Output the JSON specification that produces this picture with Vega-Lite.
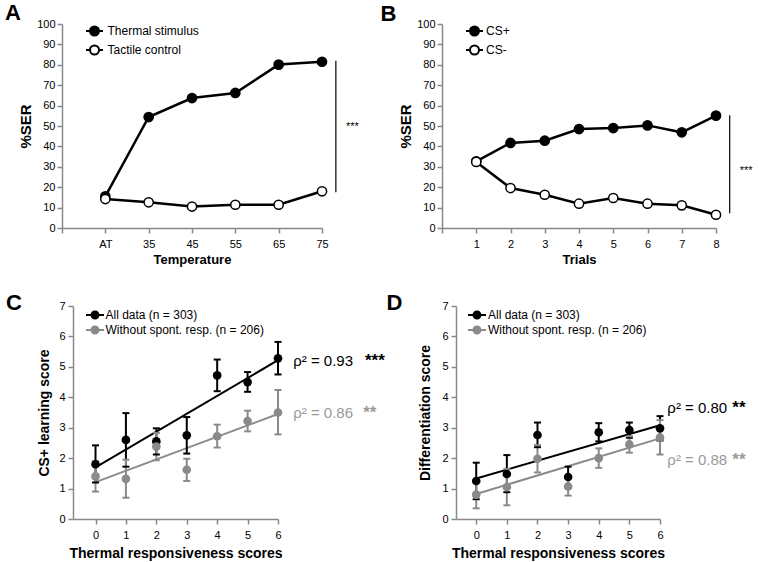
{
  "$schema": "https://vega.github.io/schema/vega-lite/v6.json",
  "padding": {"left": 5, "top": 1, "right": 2, "bottom": 2},
  "background": "white",
  "config": {
    "view": {"stroke": null},
    "font": "Liberation Sans",
    "axis": {"labelColor": "#000000", "titleColor": "#000000", "labelFont": "Liberation Sans", "titleFont": "Liberation Sans"},
    "text": {"font": "Liberation Sans", "color": "black"},
    "legend": {"labelFont": "Liberation Sans", "labelColor": "black", "padding": 0, "labelFontSize": 12}
  },
  "datasets": {
    "temperature": [
      {"step": 1, "temperature": "AT", "series": "Thermal stimulus", "ser": 15.5},
      {"step": 2, "temperature": "35", "series": "Thermal stimulus", "ser": 54.4},
      {"step": 3, "temperature": "45", "series": "Thermal stimulus", "ser": 63.7},
      {"step": 4, "temperature": "55", "series": "Thermal stimulus", "ser": 66.2},
      {"step": 5, "temperature": "65", "series": "Thermal stimulus", "ser": 80.1},
      {"step": 6, "temperature": "75", "series": "Thermal stimulus", "ser": 81.5},
      {"step": 1, "temperature": "AT", "series": "Tactile control", "ser": 14.2},
      {"step": 2, "temperature": "35", "series": "Tactile control", "ser": 12.6},
      {"step": 3, "temperature": "45", "series": "Tactile control", "ser": 10.5},
      {"step": 4, "temperature": "55", "series": "Tactile control", "ser": 11.4},
      {"step": 5, "temperature": "65", "series": "Tactile control", "ser": 11.4},
      {"step": 6, "temperature": "75", "series": "Tactile control", "ser": 18.0}
    ],
    "trials": [
      {"trial": 1, "series": "CS+", "ser": 32.7},
      {"trial": 2, "series": "CS+", "ser": 41.7},
      {"trial": 3, "series": "CS+", "ser": 42.8},
      {"trial": 4, "series": "CS+", "ser": 48.5},
      {"trial": 5, "series": "CS+", "ser": 49.0},
      {"trial": 6, "series": "CS+", "ser": 50.3},
      {"trial": 7, "series": "CS+", "ser": 46.9},
      {"trial": 8, "series": "CS+", "ser": 55.1},
      {"trial": 1, "series": "CS-", "ser": 32.4},
      {"trial": 2, "series": "CS-", "ser": 19.6},
      {"trial": 3, "series": "CS-", "ser": 16.3},
      {"trial": 4, "series": "CS-", "ser": 11.9},
      {"trial": 5, "series": "CS-", "ser": 14.7},
      {"trial": 6, "series": "CS-", "ser": 11.9},
      {"trial": 7, "series": "CS-", "ser": 11.1},
      {"trial": 8, "series": "CS-", "ser": 6.5}
    ],
    "learning": [
      {"score": 0, "series": "All data (n = 303)", "mean": 1.80, "lo": 1.20, "hi": 2.42},
      {"score": 1, "series": "All data (n = 303)", "mean": 2.60, "lo": 1.72, "hi": 3.48},
      {"score": 2, "series": "All data (n = 303)", "mean": 2.55, "lo": 2.12, "hi": 2.98},
      {"score": 3, "series": "All data (n = 303)", "mean": 2.75, "lo": 2.15, "hi": 3.35},
      {"score": 4, "series": "All data (n = 303)", "mean": 4.72, "lo": 4.20, "hi": 5.24},
      {"score": 5, "series": "All data (n = 303)", "mean": 4.50, "lo": 4.18, "hi": 4.83},
      {"score": 6, "series": "All data (n = 303)", "mean": 5.28, "lo": 4.75, "hi": 5.82},
      {"score": 0, "series": "Without spont. resp. (n = 206)", "mean": 1.40, "lo": 0.90, "hi": 1.90},
      {"score": 1, "series": "Without spont. resp. (n = 206)", "mean": 1.32, "lo": 0.70, "hi": 1.95},
      {"score": 2, "series": "Without spont. resp. (n = 206)", "mean": 2.38, "lo": 1.93, "hi": 2.83},
      {"score": 3, "series": "Without spont. resp. (n = 206)", "mean": 1.62, "lo": 1.25, "hi": 1.98},
      {"score": 4, "series": "Without spont. resp. (n = 206)", "mean": 2.72, "lo": 2.35, "hi": 3.10},
      {"score": 5, "series": "Without spont. resp. (n = 206)", "mean": 3.22, "lo": 2.88, "hi": 3.56},
      {"score": 6, "series": "Without spont. resp. (n = 206)", "mean": 3.50, "lo": 2.78, "hi": 4.24}
    ],
    "learningFit": [
      {"score": 0, "series": "All data (n = 303)", "fit": 1.70},
      {"score": 6, "series": "All data (n = 303)", "fit": 5.22},
      {"score": 0, "series": "Without spont. resp. (n = 206)", "fit": 1.21},
      {"score": 6, "series": "Without spont. resp. (n = 206)", "fit": 3.45}
    ],
    "differentiation": [
      {"score": 0, "series": "All data (n = 303)", "mean": 1.25, "lo": 0.65, "hi": 1.85},
      {"score": 1, "series": "All data (n = 303)", "mean": 1.48, "lo": 0.88, "hi": 2.10},
      {"score": 2, "series": "All data (n = 303)", "mean": 2.76, "lo": 2.36, "hi": 3.17},
      {"score": 3, "series": "All data (n = 303)", "mean": 1.38, "lo": 1.03, "hi": 1.72},
      {"score": 4, "series": "All data (n = 303)", "mean": 2.85, "lo": 2.55, "hi": 3.15},
      {"score": 5, "series": "All data (n = 303)", "mean": 2.92, "lo": 2.67, "hi": 3.17},
      {"score": 6, "series": "All data (n = 303)", "mean": 2.98, "lo": 2.58, "hi": 3.38},
      {"score": 0, "series": "Without spont. resp. (n = 206)", "mean": 0.80, "lo": 0.35, "hi": 1.25},
      {"score": 1, "series": "Without spont. resp. (n = 206)", "mean": 1.05, "lo": 0.45, "hi": 1.65},
      {"score": 2, "series": "Without spont. resp. (n = 206)", "mean": 1.98, "lo": 1.53, "hi": 2.43},
      {"score": 3, "series": "Without spont. resp. (n = 206)", "mean": 1.07, "lo": 0.77, "hi": 1.37},
      {"score": 4, "series": "Without spont. resp. (n = 206)", "mean": 2.00, "lo": 1.68, "hi": 2.32},
      {"score": 5, "series": "Without spont. resp. (n = 206)", "mean": 2.45, "lo": 2.18, "hi": 2.72},
      {"score": 6, "series": "Without spont. resp. (n = 206)", "mean": 2.68, "lo": 2.12, "hi": 3.25}
    ],
    "differentiationFit": [
      {"score": 0, "series": "All data (n = 303)", "fit": 1.33},
      {"score": 6, "series": "All data (n = 303)", "fit": 3.08},
      {"score": 0, "series": "Without spont. resp. (n = 206)", "fit": 0.82},
      {"score": 6, "series": "Without spont. resp. (n = 206)", "fit": 2.65}
    ]
  },
  "resolve": {"scale": {"fill": "independent", "stroke": "independent", "color": "independent"}, "legend": {"fill": "independent", "stroke": "independent", "color": "independent"}},
  "spacing": 25,
  "vconcat": [
    {
      "spacing": 120,
      "bounds": "flush",
      "resolve": {"scale": {"fill": "independent", "stroke": "independent", "color": "independent"}, "legend": {"fill": "independent", "stroke": "independent", "color": "independent"}},
      "hconcat": [
        {
          "width": 260,
          "height": 204,
          "data": {"name": "temperature"},
          "layer": [
            {
              "mark": {"type": "line", "color": "black", "strokeWidth": 2.5},
              "encoding": {
                "x": {"field": "step", "type": "quantitative", "scale": {"domain": [0, 6], "nice": false, "zero": false},
                  "axis": {"values": [0, 1, 2, 3, 4, 5, 6], "labelExpr": "['', 'AT', '35', '45', '55', '65', '75'][datum.value]", "title": "Temperature", "titleFontSize": 13, "domainWidth": 1.5, "tickWidth": 1.5, "tickSize": 5, "labelFontSize": 11, "labelPadding": 5, "labelOverlap": false, "labelFlush": false, "grid": false, "titleFontWeight": "bold", "titlePadding": 4}},
                "y": {"field": "ser", "type": "quantitative", "scale": {"domain": [0, 100], "nice": false},
                  "axis": {"values": [0, 10, 20, 30, 40, 50, 60, 70, 80, 90, 100], "title": "%SER", "titleFontSize": 15, "domainWidth": 1.5, "tickWidth": 1.5, "tickSize": 5, "labelFontSize": 11, "labelPadding": 2, "labelOverlap": false, "labelFlush": false, "grid": false, "titleFontWeight": "bold", "titlePadding": 3}},
                "detail": {"field": "series"}
              }
            },
            {
              "data": {"values": [{}]},
              "mark": {"type": "rule", "color": "black", "strokeWidth": 1.2},
              "encoding": {
                "x": {"datum": 6.32, "axis": {"values": [0, 1, 2, 3, 4, 5, 6], "labelExpr": "['', 'AT', '35', '45', '55', '65', '75'][datum.value]", "title": "Temperature", "titleFontSize": 13, "domainWidth": 1.5, "tickWidth": 1.5, "tickSize": 5, "labelFontSize": 11, "labelPadding": 5, "labelOverlap": false, "labelFlush": false, "grid": false, "titleFontWeight": "bold", "titlePadding": 4}},
                "y": {"datum": 17.5, "axis": {"values": [0, 10, 20, 30, 40, 50, 60, 70, 80, 90, 100], "title": "%SER", "titleFontSize": 15, "domainWidth": 1.5, "tickWidth": 1.5, "tickSize": 5, "labelFontSize": 11, "labelPadding": 2, "labelOverlap": false, "labelFlush": false, "grid": false, "titleFontWeight": "bold", "titlePadding": 3}},
                "y2": {"datum": 82}
              }
            },
            {
              "data": {"values": [{}]},
              "mark": {"type": "text", "text": "***", "fontSize": 11, "align": "center", "baseline": "alphabetic"},
              "encoding": {
                "x": {"datum": 6.7, "axis": {"values": [0, 1, 2, 3, 4, 5, 6], "labelExpr": "['', 'AT', '35', '45', '55', '65', '75'][datum.value]", "title": "Temperature", "titleFontSize": 13, "domainWidth": 1.5, "tickWidth": 1.5, "tickSize": 5, "labelFontSize": 11, "labelPadding": 5, "labelOverlap": false, "labelFlush": false, "grid": false, "titleFontWeight": "bold", "titlePadding": 4}},
                "y": {"datum": 47.8, "axis": {"values": [0, 10, 20, 30, 40, 50, 60, 70, 80, 90, 100], "title": "%SER", "titleFontSize": 15, "domainWidth": 1.5, "tickWidth": 1.5, "tickSize": 5, "labelFontSize": 11, "labelPadding": 2, "labelOverlap": false, "labelFlush": false, "grid": false, "titleFontWeight": "bold", "titlePadding": 3}}
              }
            },
            {
              "data": {"values": [{}]},
              "mark": {"type": "text", "text": "A", "fontSize": 22, "fontWeight": "bold", "align": "left", "baseline": "top"},
              "encoding": {
                "x": {"datum": -1.315, "axis": {"values": [0, 1, 2, 3, 4, 5, 6], "labelExpr": "['', 'AT', '35', '45', '55', '65', '75'][datum.value]", "title": "Temperature", "titleFontSize": 13, "domainWidth": 1.5, "tickWidth": 1.5, "tickSize": 5, "labelFontSize": 11, "labelPadding": 5, "labelOverlap": false, "labelFlush": false, "grid": false, "titleFontWeight": "bold", "titlePadding": 4}},
                "y": {"datum": 110.4, "axis": {"values": [0, 10, 20, 30, 40, 50, 60, 70, 80, 90, 100], "title": "%SER", "titleFontSize": 15, "domainWidth": 1.5, "tickWidth": 1.5, "tickSize": 5, "labelFontSize": 11, "labelPadding": 2, "labelOverlap": false, "labelFlush": false, "grid": false, "titleFontWeight": "bold", "titlePadding": 3}}
              }
            },
            {
              "mark": {"type": "point", "filled": true, "size": 85, "stroke": "black", "strokeWidth": 1.5, "opacity": 1},
              "encoding": {
                "x": {"field": "step", "type": "quantitative", "axis": {"values": [0, 1, 2, 3, 4, 5, 6], "labelExpr": "['', 'AT', '35', '45', '55', '65', '75'][datum.value]", "title": "Temperature", "titleFontSize": 13, "domainWidth": 1.5, "tickWidth": 1.5, "tickSize": 5, "labelFontSize": 11, "labelPadding": 5, "labelOverlap": false, "labelFlush": false, "grid": false, "titleFontWeight": "bold", "titlePadding": 4}},
                "y": {"field": "ser", "type": "quantitative", "axis": {"values": [0, 10, 20, 30, 40, 50, 60, 70, 80, 90, 100], "title": "%SER", "titleFontSize": 15, "domainWidth": 1.5, "tickWidth": 1.5, "tickSize": 5, "labelFontSize": 11, "labelPadding": 2, "labelOverlap": false, "labelFlush": false, "grid": false, "titleFontWeight": "bold", "titlePadding": 3}},
                "fill": {"field": "series", "type": "nominal", "scale": {"domain": ["Thermal stimulus", "Tactile control"], "range": ["black", "white"]},
                  "legend": {"orient": "none", "legendX": 23, "legendY": -2.5, "title": null, "symbolType": "M-1,0L-0.53,0M0.53,0L1,0M0.53,0A0.53,0.53,0,1,1,-0.53,0A0.53,0.53,0,1,1,0.53,0Z", "symbolSize": 289, "symbolStrokeWidth": 2, "symbolStrokeColor": "black", "labelFontSize": 12, "labelOffset": 3.5, "rowPadding": -3.3}}
              }
            }
          ]
        },
        {
          "width": 274,
          "height": 204,
          "data": {"name": "trials"},
          "layer": [
            {
              "mark": {"type": "line", "color": "black", "strokeWidth": 2.5},
              "encoding": {
                "x": {"field": "trial", "type": "quantitative", "scale": {"domain": [0, 8], "nice": false, "zero": false},
                  "axis": {"values": [0, 1, 2, 3, 4, 5, 6, 7, 8], "labelExpr": "datum.value == 0 ? '' : datum.label", "title": "Trials", "titleFontSize": 13, "domainWidth": 1.5, "tickWidth": 1.5, "tickSize": 5, "labelFontSize": 11, "labelPadding": 5, "labelOverlap": false, "labelFlush": false, "grid": false, "titleFontWeight": "bold", "titlePadding": 4}},
                "y": {"field": "ser", "type": "quantitative", "scale": {"domain": [0, 100], "nice": false},
                  "axis": {"values": [0, 10, 20, 30, 40, 50, 60, 70, 80, 90, 100], "title": "%SER", "titleFontSize": 15, "domainWidth": 1.5, "tickWidth": 1.5, "tickSize": 5, "labelFontSize": 11, "labelPadding": 2, "labelOverlap": false, "labelFlush": false, "grid": false, "titleFontWeight": "bold", "titlePadding": 3}},
                "detail": {"field": "series"}
              }
            },
            {
              "data": {"values": [{}]},
              "mark": {"type": "rule", "color": "black", "strokeWidth": 1.2},
              "encoding": {
                "x": {"datum": 8.4, "axis": {"values": [0, 1, 2, 3, 4, 5, 6, 7, 8], "labelExpr": "datum.value == 0 ? '' : datum.label", "title": "Trials", "titleFontSize": 13, "domainWidth": 1.5, "tickWidth": 1.5, "tickSize": 5, "labelFontSize": 11, "labelPadding": 5, "labelOverlap": false, "labelFlush": false, "grid": false, "titleFontWeight": "bold", "titlePadding": 4}},
                "y": {"datum": 7.2, "axis": {"values": [0, 10, 20, 30, 40, 50, 60, 70, 80, 90, 100], "title": "%SER", "titleFontSize": 15, "domainWidth": 1.5, "tickWidth": 1.5, "tickSize": 5, "labelFontSize": 11, "labelPadding": 2, "labelOverlap": false, "labelFlush": false, "grid": false, "titleFontWeight": "bold", "titlePadding": 3}},
                "y2": {"datum": 55.3}
              }
            },
            {
              "data": {"values": [{}]},
              "mark": {"type": "text", "text": "***", "fontSize": 11, "align": "center", "baseline": "alphabetic"},
              "encoding": {
                "x": {"datum": 8.88, "axis": {"values": [0, 1, 2, 3, 4, 5, 6, 7, 8], "labelExpr": "datum.value == 0 ? '' : datum.label", "title": "Trials", "titleFontSize": 13, "domainWidth": 1.5, "tickWidth": 1.5, "tickSize": 5, "labelFontSize": 11, "labelPadding": 5, "labelOverlap": false, "labelFlush": false, "grid": false, "titleFontWeight": "bold", "titlePadding": 4}},
                "y": {"datum": 26.5, "axis": {"values": [0, 10, 20, 30, 40, 50, 60, 70, 80, 90, 100], "title": "%SER", "titleFontSize": 15, "domainWidth": 1.5, "tickWidth": 1.5, "tickSize": 5, "labelFontSize": 11, "labelPadding": 2, "labelOverlap": false, "labelFlush": false, "grid": false, "titleFontWeight": "bold", "titlePadding": 3}}
              }
            },
            {
              "data": {"values": [{}]},
              "mark": {"type": "text", "text": "B", "fontSize": 22, "fontWeight": "bold", "align": "left", "baseline": "top"},
              "encoding": {
                "x": {"datum": -1.796, "axis": {"values": [0, 1, 2, 3, 4, 5, 6, 7, 8], "labelExpr": "datum.value == 0 ? '' : datum.label", "title": "Trials", "titleFontSize": 13, "domainWidth": 1.5, "tickWidth": 1.5, "tickSize": 5, "labelFontSize": 11, "labelPadding": 5, "labelOverlap": false, "labelFlush": false, "grid": false, "titleFontWeight": "bold", "titlePadding": 4}},
                "y": {"datum": 109.9, "axis": {"values": [0, 10, 20, 30, 40, 50, 60, 70, 80, 90, 100], "title": "%SER", "titleFontSize": 15, "domainWidth": 1.5, "tickWidth": 1.5, "tickSize": 5, "labelFontSize": 11, "labelPadding": 2, "labelOverlap": false, "labelFlush": false, "grid": false, "titleFontWeight": "bold", "titlePadding": 3}}
              }
            },
            {
              "mark": {"type": "point", "filled": true, "size": 85, "stroke": "black", "strokeWidth": 1.5, "opacity": 1},
              "encoding": {
                "x": {"field": "trial", "type": "quantitative", "axis": {"values": [0, 1, 2, 3, 4, 5, 6, 7, 8], "labelExpr": "datum.value == 0 ? '' : datum.label", "title": "Trials", "titleFontSize": 13, "domainWidth": 1.5, "tickWidth": 1.5, "tickSize": 5, "labelFontSize": 11, "labelPadding": 5, "labelOverlap": false, "labelFlush": false, "grid": false, "titleFontWeight": "bold", "titlePadding": 4}},
                "y": {"field": "ser", "type": "quantitative", "axis": {"values": [0, 10, 20, 30, 40, 50, 60, 70, 80, 90, 100], "title": "%SER", "titleFontSize": 15, "domainWidth": 1.5, "tickWidth": 1.5, "tickSize": 5, "labelFontSize": 11, "labelPadding": 2, "labelOverlap": false, "labelFlush": false, "grid": false, "titleFontWeight": "bold", "titlePadding": 3}},
                "fill": {"field": "series", "type": "nominal", "scale": {"domain": ["CS+", "CS-"], "range": ["black", "white"]},
                  "legend": {"orient": "none", "legendX": 23, "legendY": -2.5, "title": null, "symbolType": "M-1,0L-0.53,0M0.53,0L1,0M0.53,0A0.53,0.53,0,1,1,-0.53,0A0.53,0.53,0,1,1,0.53,0Z", "symbolSize": 289, "symbolStrokeWidth": 2, "symbolStrokeColor": "black", "labelFontSize": 12, "labelOffset": 2, "rowPadding": -3.3}}
              }
            }
          ]
        }
      ]
    },
    {
      "spacing": 0,
      "bounds": "flush",
      "resolve": {"scale": {"fill": "independent", "stroke": "independent", "color": "independent"}, "legend": {"fill": "independent", "stroke": "independent", "color": "independent"}},
      "hconcat": [
        {"width": 11, "height": 213, "data": {"values": []}, "mark": "point"},
        {
          "spacing": 178,
          "bounds": "flush",
          "resolve": {"scale": {"fill": "independent", "stroke": "independent", "color": "independent"}, "legend": {"fill": "independent", "stroke": "independent", "color": "independent"}},
          "hconcat": [
            {
              "width": 205,
              "height": 213,
              "layer": [
                {
                  "data": {"name": "learningFit"},
                  "mark": {"type": "line", "strokeWidth": 2},
                  "encoding": {
                    "x": {"field": "score", "type": "quantitative", "scale": {"domain": [-0.74, 6], "nice": false, "zero": false},
                      "axis": {"values": [0, 1, 2, 3, 4, 5, 6], "title": "Thermal responsiveness scores", "titleFontSize": 14, "domainWidth": 1.5, "tickWidth": 1.5, "tickSize": 5, "labelFontSize": 11, "labelPadding": 5, "labelOverlap": false, "labelFlush": false, "grid": false, "titleFontWeight": "bold", "titlePadding": 6}},
                    "y": {"field": "fit", "type": "quantitative", "scale": {"domain": [0, 7], "nice": false},
                      "axis": {"values": [0, 1, 2, 3, 4, 5, 6, 7], "title": "CS+ learning score", "titleFontSize": 14, "domainWidth": 1.5, "tickWidth": 1.5, "tickSize": 5, "labelFontSize": 11, "labelPadding": 3, "labelOverlap": false, "labelFlush": false, "grid": false, "titleFontWeight": "bold", "titlePadding": 7}},
                    "color": {"field": "series", "type": "nominal", "scale": {"range": ["black", "#8a8a8a"]}, "legend": null}
                  }
                },
                {
                  "data": {"name": "learning"},
                  "mark": {"type": "rule", "strokeWidth": 2},
                  "encoding": {
                    "x": {"field": "score", "type": "quantitative", "axis": {"values": [0, 1, 2, 3, 4, 5, 6], "title": "Thermal responsiveness scores", "titleFontSize": 14, "domainWidth": 1.5, "tickWidth": 1.5, "tickSize": 5, "labelFontSize": 11, "labelPadding": 5, "labelOverlap": false, "labelFlush": false, "grid": false, "titleFontWeight": "bold", "titlePadding": 6}},
                    "y": {"field": "lo", "type": "quantitative", "axis": {"values": [0, 1, 2, 3, 4, 5, 6, 7], "title": "CS+ learning score", "titleFontSize": 14, "domainWidth": 1.5, "tickWidth": 1.5, "tickSize": 5, "labelFontSize": 11, "labelPadding": 3, "labelOverlap": false, "labelFlush": false, "grid": false, "titleFontWeight": "bold", "titlePadding": 7}},
                    "y2": {"field": "hi"},
                    "color": {"field": "series", "type": "nominal", "legend": null}
                  }
                },
                {
                  "data": {"name": "learning"},
                  "mark": {"type": "tick", "orient": "horizontal", "size": 7, "thickness": 2, "opacity": 1},
                  "encoding": {
                    "x": {"field": "score", "type": "quantitative", "axis": {"values": [0, 1, 2, 3, 4, 5, 6], "title": "Thermal responsiveness scores", "titleFontSize": 14, "domainWidth": 1.5, "tickWidth": 1.5, "tickSize": 5, "labelFontSize": 11, "labelPadding": 5, "labelOverlap": false, "labelFlush": false, "grid": false, "titleFontWeight": "bold", "titlePadding": 6}},
                    "y": {"field": "lo", "type": "quantitative", "axis": {"values": [0, 1, 2, 3, 4, 5, 6, 7], "title": "CS+ learning score", "titleFontSize": 14, "domainWidth": 1.5, "tickWidth": 1.5, "tickSize": 5, "labelFontSize": 11, "labelPadding": 3, "labelOverlap": false, "labelFlush": false, "grid": false, "titleFontWeight": "bold", "titlePadding": 7}},
                    "color": {"field": "series", "type": "nominal", "legend": null}
                  }
                },
                {
                  "data": {"name": "learning"},
                  "mark": {"type": "tick", "orient": "horizontal", "size": 7, "thickness": 2, "opacity": 1},
                  "encoding": {
                    "x": {"field": "score", "type": "quantitative", "axis": {"values": [0, 1, 2, 3, 4, 5, 6], "title": "Thermal responsiveness scores", "titleFontSize": 14, "domainWidth": 1.5, "tickWidth": 1.5, "tickSize": 5, "labelFontSize": 11, "labelPadding": 5, "labelOverlap": false, "labelFlush": false, "grid": false, "titleFontWeight": "bold", "titlePadding": 6}},
                    "y": {"field": "hi", "type": "quantitative", "axis": {"values": [0, 1, 2, 3, 4, 5, 6, 7], "title": "CS+ learning score", "titleFontSize": 14, "domainWidth": 1.5, "tickWidth": 1.5, "tickSize": 5, "labelFontSize": 11, "labelPadding": 3, "labelOverlap": false, "labelFlush": false, "grid": false, "titleFontWeight": "bold", "titlePadding": 7}},
                    "color": {"field": "series", "type": "nominal", "legend": null}
                  }
                },
                {
                  "data": {"values": [{}]},
                  "layer": [
                    {"mark": {"type": "text", "text": "ρ² = 0.93", "fontSize": 15, "align": "left", "baseline": "middle", "color": "black"},
                     "encoding": {
                       "x": {"datum": 6.5, "axis": {"values": [0, 1, 2, 3, 4, 5, 6], "title": "Thermal responsiveness scores", "titleFontSize": 14, "domainWidth": 1.5, "tickWidth": 1.5, "tickSize": 5, "labelFontSize": 11, "labelPadding": 5, "labelOverlap": false, "labelFlush": false, "grid": false, "titleFontWeight": "bold", "titlePadding": 6}},
                       "y": {"datum": 5.19, "axis": {"values": [0, 1, 2, 3, 4, 5, 6, 7], "title": "CS+ learning score", "titleFontSize": 14, "domainWidth": 1.5, "tickWidth": 1.5, "tickSize": 5, "labelFontSize": 11, "labelPadding": 3, "labelOverlap": false, "labelFlush": false, "grid": false, "titleFontWeight": "bold", "titlePadding": 7}}}},
                    {"mark": {"type": "text", "text": "***", "fontSize": 17, "fontWeight": "bold", "align": "left", "baseline": "middle", "color": "black"},
                     "encoding": {
                       "x": {"datum": 8.86, "axis": {"values": [0, 1, 2, 3, 4, 5, 6], "title": "Thermal responsiveness scores", "titleFontSize": 14, "domainWidth": 1.5, "tickWidth": 1.5, "tickSize": 5, "labelFontSize": 11, "labelPadding": 5, "labelOverlap": false, "labelFlush": false, "grid": false, "titleFontWeight": "bold", "titlePadding": 6}},
                       "y": {"datum": 5.19, "axis": {"values": [0, 1, 2, 3, 4, 5, 6, 7], "title": "CS+ learning score", "titleFontSize": 14, "domainWidth": 1.5, "tickWidth": 1.5, "tickSize": 5, "labelFontSize": 11, "labelPadding": 3, "labelOverlap": false, "labelFlush": false, "grid": false, "titleFontWeight": "bold", "titlePadding": 7}}}},
                    {"mark": {"type": "text", "text": "ρ² = 0.86", "fontSize": 15, "align": "left", "baseline": "middle", "color": "#9a9a9a"},
                     "encoding": {
                       "x": {"datum": 6.5, "axis": {"values": [0, 1, 2, 3, 4, 5, 6], "title": "Thermal responsiveness scores", "titleFontSize": 14, "domainWidth": 1.5, "tickWidth": 1.5, "tickSize": 5, "labelFontSize": 11, "labelPadding": 5, "labelOverlap": false, "labelFlush": false, "grid": false, "titleFontWeight": "bold", "titlePadding": 6}},
                       "y": {"datum": 3.49, "axis": {"values": [0, 1, 2, 3, 4, 5, 6, 7], "title": "CS+ learning score", "titleFontSize": 14, "domainWidth": 1.5, "tickWidth": 1.5, "tickSize": 5, "labelFontSize": 11, "labelPadding": 3, "labelOverlap": false, "labelFlush": false, "grid": false, "titleFontWeight": "bold", "titlePadding": 7}}}},
                    {"mark": {"type": "text", "text": "**", "fontSize": 17, "fontWeight": "bold", "align": "left", "baseline": "middle", "color": "#9a9a9a"},
                     "encoding": {
                       "x": {"datum": 8.8, "axis": {"values": [0, 1, 2, 3, 4, 5, 6], "title": "Thermal responsiveness scores", "titleFontSize": 14, "domainWidth": 1.5, "tickWidth": 1.5, "tickSize": 5, "labelFontSize": 11, "labelPadding": 5, "labelOverlap": false, "labelFlush": false, "grid": false, "titleFontWeight": "bold", "titlePadding": 6}},
                       "y": {"datum": 3.49, "axis": {"values": [0, 1, 2, 3, 4, 5, 6, 7], "title": "CS+ learning score", "titleFontSize": 14, "domainWidth": 1.5, "tickWidth": 1.5, "tickSize": 5, "labelFontSize": 11, "labelPadding": 3, "labelOverlap": false, "labelFlush": false, "grid": false, "titleFontWeight": "bold", "titlePadding": 7}}}},
                    {"mark": {"type": "text", "text": "C", "fontSize": 22, "fontWeight": "bold", "align": "left", "baseline": "top"},
                     "encoding": {
                       "x": {"datum": -2.943, "axis": {"values": [0, 1, 2, 3, 4, 5, 6], "title": "Thermal responsiveness scores", "titleFontSize": 14, "domainWidth": 1.5, "tickWidth": 1.5, "tickSize": 5, "labelFontSize": 11, "labelPadding": 5, "labelOverlap": false, "labelFlush": false, "grid": false, "titleFontWeight": "bold", "titlePadding": 6}},
                       "y": {"datum": 7.435, "axis": {"values": [0, 1, 2, 3, 4, 5, 6, 7], "title": "CS+ learning score", "titleFontSize": 14, "domainWidth": 1.5, "tickWidth": 1.5, "tickSize": 5, "labelFontSize": 11, "labelPadding": 3, "labelOverlap": false, "labelFlush": false, "grid": false, "titleFontWeight": "bold", "titlePadding": 7}}}}
                  ]
                },
                {
                  "data": {"name": "learning"},
                  "mark": {"type": "point", "filled": true, "size": 75, "opacity": 1, "strokeWidth": 0},
                  "encoding": {
                    "x": {"field": "score", "type": "quantitative", "axis": {"values": [0, 1, 2, 3, 4, 5, 6], "title": "Thermal responsiveness scores", "titleFontSize": 14, "domainWidth": 1.5, "tickWidth": 1.5, "tickSize": 5, "labelFontSize": 11, "labelPadding": 5, "labelOverlap": false, "labelFlush": false, "grid": false, "titleFontWeight": "bold", "titlePadding": 6}},
                    "y": {"field": "mean", "type": "quantitative", "axis": {"values": [0, 1, 2, 3, 4, 5, 6, 7], "title": "CS+ learning score", "titleFontSize": 14, "domainWidth": 1.5, "tickWidth": 1.5, "tickSize": 5, "labelFontSize": 11, "labelPadding": 3, "labelOverlap": false, "labelFlush": false, "grid": false, "titleFontWeight": "bold", "titlePadding": 7}},
                    "fill": {"field": "series", "type": "nominal", "scale": {"domain": ["All data (n = 303)", "Without spont. resp. (n = 206)"], "range": ["black", "#8a8a8a"]},
                      "legend": {"orient": "none", "legendX": 13, "legendY": 0, "title": null, "symbolType": "M-1,-0.11L-0.45,-0.11L-0.45,0.11L-1,0.11ZM0.45,-0.11L1,-0.11L1,0.11L0.45,0.11ZM0.5,0A0.5,0.5,0,1,1,-0.5,0A0.5,0.5,0,1,1,0.5,0Z", "symbolSize": 324, "symbolStrokeWidth": 0, "labelFontSize": 12, "labelOffset": 1.5, "rowPadding": -4}}
                  }
                }
              ]
            },
            {
              "width": 204,
              "height": 213,
              "layer": [
                {
                  "data": {"name": "differentiationFit"},
                  "mark": {"type": "line", "strokeWidth": 2},
                  "encoding": {
                    "x": {"field": "score", "type": "quantitative", "scale": {"domain": [-0.66, 6], "nice": false, "zero": false},
                      "axis": {"values": [0, 1, 2, 3, 4, 5, 6], "title": "Thermal responsiveness scores", "titleFontSize": 14, "domainWidth": 1.5, "tickWidth": 1.5, "tickSize": 5, "labelFontSize": 11, "labelPadding": 5, "labelOverlap": false, "labelFlush": false, "grid": false, "titleFontWeight": "bold", "titlePadding": 6}},
                    "y": {"field": "fit", "type": "quantitative", "scale": {"domain": [0, 7], "nice": false},
                      "axis": {"values": [0, 1, 2, 3, 4, 5, 6, 7], "title": "Differentiation score", "titleFontSize": 14, "domainWidth": 1.5, "tickWidth": 1.5, "tickSize": 5, "labelFontSize": 11, "labelPadding": 3, "labelOverlap": false, "labelFlush": false, "grid": false, "titleFontWeight": "bold", "titlePadding": 9}},
                    "color": {"field": "series", "type": "nominal", "scale": {"range": ["black", "#8a8a8a"]}, "legend": null}
                  }
                },
                {
                  "data": {"name": "differentiation"},
                  "mark": {"type": "rule", "strokeWidth": 2},
                  "encoding": {
                    "x": {"field": "score", "type": "quantitative", "axis": {"values": [0, 1, 2, 3, 4, 5, 6], "title": "Thermal responsiveness scores", "titleFontSize": 14, "domainWidth": 1.5, "tickWidth": 1.5, "tickSize": 5, "labelFontSize": 11, "labelPadding": 5, "labelOverlap": false, "labelFlush": false, "grid": false, "titleFontWeight": "bold", "titlePadding": 6}},
                    "y": {"field": "lo", "type": "quantitative", "axis": {"values": [0, 1, 2, 3, 4, 5, 6, 7], "title": "Differentiation score", "titleFontSize": 14, "domainWidth": 1.5, "tickWidth": 1.5, "tickSize": 5, "labelFontSize": 11, "labelPadding": 3, "labelOverlap": false, "labelFlush": false, "grid": false, "titleFontWeight": "bold", "titlePadding": 9}},
                    "y2": {"field": "hi"},
                    "color": {"field": "series", "type": "nominal", "legend": null}
                  }
                },
                {
                  "data": {"name": "differentiation"},
                  "mark": {"type": "tick", "orient": "horizontal", "size": 7, "thickness": 2, "opacity": 1},
                  "encoding": {
                    "x": {"field": "score", "type": "quantitative", "axis": {"values": [0, 1, 2, 3, 4, 5, 6], "title": "Thermal responsiveness scores", "titleFontSize": 14, "domainWidth": 1.5, "tickWidth": 1.5, "tickSize": 5, "labelFontSize": 11, "labelPadding": 5, "labelOverlap": false, "labelFlush": false, "grid": false, "titleFontWeight": "bold", "titlePadding": 6}},
                    "y": {"field": "lo", "type": "quantitative", "axis": {"values": [0, 1, 2, 3, 4, 5, 6, 7], "title": "Differentiation score", "titleFontSize": 14, "domainWidth": 1.5, "tickWidth": 1.5, "tickSize": 5, "labelFontSize": 11, "labelPadding": 3, "labelOverlap": false, "labelFlush": false, "grid": false, "titleFontWeight": "bold", "titlePadding": 9}},
                    "color": {"field": "series", "type": "nominal", "legend": null}
                  }
                },
                {
                  "data": {"name": "differentiation"},
                  "mark": {"type": "tick", "orient": "horizontal", "size": 7, "thickness": 2, "opacity": 1},
                  "encoding": {
                    "x": {"field": "score", "type": "quantitative", "axis": {"values": [0, 1, 2, 3, 4, 5, 6], "title": "Thermal responsiveness scores", "titleFontSize": 14, "domainWidth": 1.5, "tickWidth": 1.5, "tickSize": 5, "labelFontSize": 11, "labelPadding": 5, "labelOverlap": false, "labelFlush": false, "grid": false, "titleFontWeight": "bold", "titlePadding": 6}},
                    "y": {"field": "hi", "type": "quantitative", "axis": {"values": [0, 1, 2, 3, 4, 5, 6, 7], "title": "Differentiation score", "titleFontSize": 14, "domainWidth": 1.5, "tickWidth": 1.5, "tickSize": 5, "labelFontSize": 11, "labelPadding": 3, "labelOverlap": false, "labelFlush": false, "grid": false, "titleFontWeight": "bold", "titlePadding": 9}},
                    "color": {"field": "series", "type": "nominal", "legend": null}
                  }
                },
                {
                  "data": {"values": [{}]},
                  "layer": [
                    {"mark": {"type": "text", "text": "ρ² = 0.80", "fontSize": 15, "align": "left", "baseline": "middle", "color": "black"},
                     "encoding": {
                       "x": {"datum": 6.24, "axis": {"values": [0, 1, 2, 3, 4, 5, 6], "title": "Thermal responsiveness scores", "titleFontSize": 14, "domainWidth": 1.5, "tickWidth": 1.5, "tickSize": 5, "labelFontSize": 11, "labelPadding": 5, "labelOverlap": false, "labelFlush": false, "grid": false, "titleFontWeight": "bold", "titlePadding": 6}},
                       "y": {"datum": 3.66, "axis": {"values": [0, 1, 2, 3, 4, 5, 6, 7], "title": "Differentiation score", "titleFontSize": 14, "domainWidth": 1.5, "tickWidth": 1.5, "tickSize": 5, "labelFontSize": 11, "labelPadding": 3, "labelOverlap": false, "labelFlush": false, "grid": false, "titleFontWeight": "bold", "titlePadding": 9}}}},
                    {"mark": {"type": "text", "text": "**", "fontSize": 17, "fontWeight": "bold", "align": "left", "baseline": "middle", "color": "black"},
                     "encoding": {
                       "x": {"datum": 8.36, "axis": {"values": [0, 1, 2, 3, 4, 5, 6], "title": "Thermal responsiveness scores", "titleFontSize": 14, "domainWidth": 1.5, "tickWidth": 1.5, "tickSize": 5, "labelFontSize": 11, "labelPadding": 5, "labelOverlap": false, "labelFlush": false, "grid": false, "titleFontWeight": "bold", "titlePadding": 6}},
                       "y": {"datum": 3.66, "axis": {"values": [0, 1, 2, 3, 4, 5, 6, 7], "title": "Differentiation score", "titleFontSize": 14, "domainWidth": 1.5, "tickWidth": 1.5, "tickSize": 5, "labelFontSize": 11, "labelPadding": 3, "labelOverlap": false, "labelFlush": false, "grid": false, "titleFontWeight": "bold", "titlePadding": 9}}}},
                    {"mark": {"type": "text", "text": "ρ² = 0.88", "fontSize": 15, "align": "left", "baseline": "middle", "color": "#9a9a9a"},
                     "encoding": {
                       "x": {"datum": 6.24, "axis": {"values": [0, 1, 2, 3, 4, 5, 6], "title": "Thermal responsiveness scores", "titleFontSize": 14, "domainWidth": 1.5, "tickWidth": 1.5, "tickSize": 5, "labelFontSize": 11, "labelPadding": 5, "labelOverlap": false, "labelFlush": false, "grid": false, "titleFontWeight": "bold", "titlePadding": 6}},
                       "y": {"datum": 1.93, "axis": {"values": [0, 1, 2, 3, 4, 5, 6, 7], "title": "Differentiation score", "titleFontSize": 14, "domainWidth": 1.5, "tickWidth": 1.5, "tickSize": 5, "labelFontSize": 11, "labelPadding": 3, "labelOverlap": false, "labelFlush": false, "grid": false, "titleFontWeight": "bold", "titlePadding": 9}}}},
                    {"mark": {"type": "text", "text": "**", "fontSize": 17, "fontWeight": "bold", "align": "left", "baseline": "middle", "color": "#9a9a9a"},
                     "encoding": {
                       "x": {"datum": 8.36, "axis": {"values": [0, 1, 2, 3, 4, 5, 6], "title": "Thermal responsiveness scores", "titleFontSize": 14, "domainWidth": 1.5, "tickWidth": 1.5, "tickSize": 5, "labelFontSize": 11, "labelPadding": 5, "labelOverlap": false, "labelFlush": false, "grid": false, "titleFontWeight": "bold", "titlePadding": 6}},
                       "y": {"datum": 1.93, "axis": {"values": [0, 1, 2, 3, 4, 5, 6, 7], "title": "Differentiation score", "titleFontSize": 14, "domainWidth": 1.5, "tickWidth": 1.5, "tickSize": 5, "labelFontSize": 11, "labelPadding": 3, "labelOverlap": false, "labelFlush": false, "grid": false, "titleFontWeight": "bold", "titlePadding": 9}}}},
                    {"mark": {"type": "text", "text": "D", "fontSize": 22, "fontWeight": "bold", "align": "left", "baseline": "top"},
                     "encoding": {
                       "x": {"datum": -2.929, "axis": {"values": [0, 1, 2, 3, 4, 5, 6], "title": "Thermal responsiveness scores", "titleFontSize": 14, "domainWidth": 1.5, "tickWidth": 1.5, "tickSize": 5, "labelFontSize": 11, "labelPadding": 5, "labelOverlap": false, "labelFlush": false, "grid": false, "titleFontWeight": "bold", "titlePadding": 6}},
                       "y": {"datum": 7.435, "axis": {"values": [0, 1, 2, 3, 4, 5, 6, 7], "title": "Differentiation score", "titleFontSize": 14, "domainWidth": 1.5, "tickWidth": 1.5, "tickSize": 5, "labelFontSize": 11, "labelPadding": 3, "labelOverlap": false, "labelFlush": false, "grid": false, "titleFontWeight": "bold", "titlePadding": 9}}}}
                  ]
                },
                {
                  "data": {"name": "differentiation"},
                  "mark": {"type": "point", "filled": true, "size": 75, "opacity": 1, "strokeWidth": 0},
                  "encoding": {
                    "x": {"field": "score", "type": "quantitative", "axis": {"values": [0, 1, 2, 3, 4, 5, 6], "title": "Thermal responsiveness scores", "titleFontSize": 14, "domainWidth": 1.5, "tickWidth": 1.5, "tickSize": 5, "labelFontSize": 11, "labelPadding": 5, "labelOverlap": false, "labelFlush": false, "grid": false, "titleFontWeight": "bold", "titlePadding": 6}},
                    "y": {"field": "mean", "type": "quantitative", "axis": {"values": [0, 1, 2, 3, 4, 5, 6, 7], "title": "Differentiation score", "titleFontSize": 14, "domainWidth": 1.5, "tickWidth": 1.5, "tickSize": 5, "labelFontSize": 11, "labelPadding": 3, "labelOverlap": false, "labelFlush": false, "grid": false, "titleFontWeight": "bold", "titlePadding": 9}},
                    "fill": {"field": "series", "type": "nominal", "scale": {"domain": ["All data (n = 303)", "Without spont. resp. (n = 206)"], "range": ["black", "#8a8a8a"]},
                      "legend": {"orient": "none", "legendX": 12, "legendY": 0, "title": null, "symbolType": "M-1,-0.11L-0.45,-0.11L-0.45,0.11L-1,0.11ZM0.45,-0.11L1,-0.11L1,0.11L0.45,0.11ZM0.5,0A0.5,0.5,0,1,1,-0.5,0A0.5,0.5,0,1,1,0.5,0Z", "symbolSize": 324, "symbolStrokeWidth": 0, "labelFontSize": 12, "labelOffset": 2, "rowPadding": -4}}
                  }
                }
              ]
            }
          ]
        }
      ]
    }
  ]
}
